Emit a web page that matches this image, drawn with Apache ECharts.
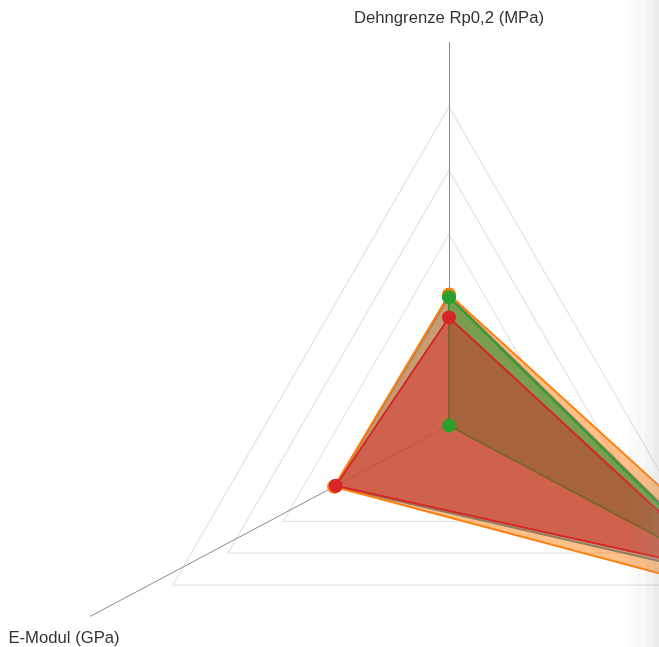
<!DOCTYPE html>
<html>
<head>
<meta charset="utf-8">
<title>Werkstoffkennwerte</title>
<script src="https://cdn.jsdelivr.net/npm/echarts@6/dist/echarts.min.js"></script>
<style>
  html, body { margin: 0; padding: 0; background: #ffffff; }
  #wrap { position: relative; width: 659px; height: 647px; overflow: hidden; }
  #chart { width: 659px; height: 647px; }
  #edge {
    position: absolute; top: 0; right: 0; width: 30px; height: 100%;
    pointer-events: none;
    background: linear-gradient(to right,
      rgba(150,150,150,0.038) 0px, rgba(150,150,150,0.038) 8px,
      rgba(150,150,150,0.067) 8px, rgba(150,150,150,0.067) 16px,
      rgba(150,150,150,0.114) 16px, rgba(150,150,150,0.114) 24px,
      rgba(150,150,150,0.18) 24px, rgba(150,150,150,0.18) 30px);
  }
</style>
</head>
<body>
<div id="wrap">
  <div id="chart"></div>
  <div id="edge"></div>
</div>
<script>
// Kennwerte je Achse: [Dehngrenze Rp0,2, Zugfestigkeit Rm, E-Modul]
const indicatorNames = ['Dehngrenze Rp0,2 (MPa)', 'Zugfestigkeit Rm (MPa)', 'E-Modul (GPa)'];
const indicatorMax = [1000, 500, 500];

const seriesNames = ['Werkstoff A', 'Werkstoff B', 'Werkstoff C', 'Werkstoff D'];
const werkstoffA = [406, 512, 203];
const werkstoffB = [411, 614, 204];
const werkstoffC = [402, 503, 0];
const werkstoffD = [339, 489, 201];
const seriesValues = [werkstoffA, werkstoffB, werkstoffC, werkstoffD];

const palette = ['#1f77b4', '#ff7f0e', '#2ca02c', '#d62728'];

// Layout of the diagram
const CX = 449, CY = 425.6;
const GRID_R = 319;                       // outer grid triangle
const axisAngles = [90, -28, 208];        // direction of each axis (deg, ccw from +x)
const axisLengths = [383, 406, 406];
const angleSteps = [0, 118, 242];         // clockwise offset from the top axis
const FONT = '"Liberation Sans", Arial, sans-serif';
const FONT_SIZE = 16.7;

const chart = echarts.init(document.getElementById('chart'), null, { renderer: 'canvas' });

// polar 0 carries the data, polar 1..3 draw one axis each
const polar = [{ center: [CX, CY], radius: GRID_R }];
const angleAxis = [{ polarIndex: 0, type: 'value', min: 0, max: 360, startAngle: 90, clockwise: true, show: false }];
const radiusAxis = [{ polarIndex: 0, type: 'value', min: 0, max: 1, show: false }];

const nameLayout = [
  { gap: 24, align: 'center', verticalAlign: 'middle' },
  { gap: 30, align: 'center', verticalAlign: 'top' },
  { gap: 30, align: 'center', verticalAlign: 'top' }
];

for (let i = 0; i < 3; i++) {
  polar.push({ center: [CX, CY], radius: axisLengths[i] });
  angleAxis.push({ polarIndex: i + 1, type: 'value', min: 0, max: 360, startAngle: axisAngles[i], show: false });
  radiusAxis.push({
    polarIndex: i + 1, type: 'value', min: 0, max: 1,
    name: indicatorNames[i], nameLocation: 'end', nameGap: nameLayout[i].gap,
    nameTextStyle: {
      fontFamily: FONT, fontSize: FONT_SIZE, color: '#333',
      align: nameLayout[i].align, verticalAlign: nameLayout[i].verticalAlign
    },
    axisLine: { show: true, lineStyle: { color: '#8a8a8a', width: 1 } },
    axisTick: { show: false }, axisLabel: { show: false }, splitLine: { show: false }
  });
}

// closed polygon per material, radius normalised by the axis maximum
function polygon(values) {
  const pts = values.map((v, k) => [v / indicatorMax[k], angleSteps[k]]);
  pts.push([values[0] / indicatorMax[0], 360]);
  return pts;
}

// each material's area + outline on its own layer, so later fills cover earlier outlines
const areaSeries = seriesValues.map((vals, i) => ({
  name: seriesNames[i],
  type: 'line',
  coordinateSystem: 'polar',
  polarIndex: 0,
  data: polygon(vals),
  clip: false,
  showSymbol: false,
  lineStyle: { color: palette[i], width: 2 },
  itemStyle: { color: palette[i] },
  areaStyle: { color: palette[i], opacity: 0.5 },
  emphasis: { disabled: true },
  z: 2 + i
}));

// the value points sit above all areas
const pointSeries = seriesValues.map((vals, i) => ({
  name: seriesNames[i],
  type: 'scatter',
  coordinateSystem: 'polar',
  polarIndex: 0,
  data: vals.map((v, k) => [v / indicatorMax[k], angleSteps[k]]),
  clip: false,
  symbol: 'circle',
  symbolSize: 14,
  itemStyle: { color: palette[i], opacity: 1 },
  emphasis: { disabled: true },
  z: 10
}));

chart.setOption({
  animation: false,
  backgroundColor: '#ffffff',
  radar: {
    center: [CX, CY],
    radius: GRID_R,
    startAngle: 90,
    splitNumber: 5,
    shape: 'polygon',
    indicator: indicatorNames.map((n, k) => ({ name: n, max: indicatorMax[k] })),
    axisName: { show: false },
    axisLine: { show: false },
    splitArea: { show: false },
    splitLine: { lineStyle: { color: '#e3e3e3', width: 1.2 } }
  },
  polar: polar,
  angleAxis: angleAxis,
  radiusAxis: radiusAxis,
  series: areaSeries.concat(pointSeries)
});
</script>
</body>
</html>
